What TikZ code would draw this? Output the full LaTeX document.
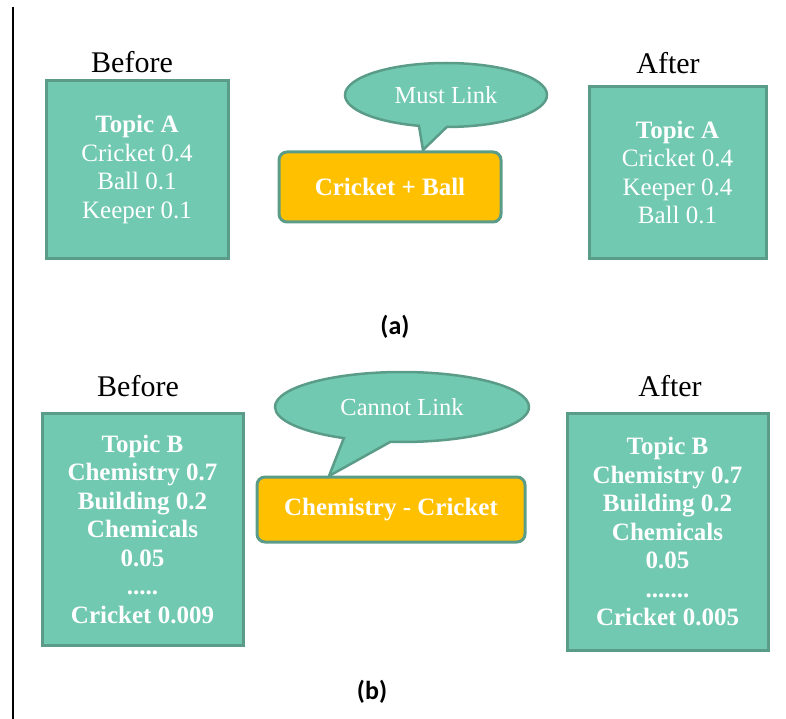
\documentclass[tikz,border=0pt]{standalone}
\usepackage{fontspec}
\setmainfont{Liberation Serif}
\newfontfamily\capfont{Carlito}
\usepackage{tikz}
\usetikzlibrary{shapes.callouts}

\definecolor{topicfill}{HTML}{70C9B0}
\definecolor{topicline}{HTML}{5B9C88}
\definecolor{linkfill}{HTML}{FFC000}

\tikzset{
  topicbox/.style={draw=topicline,line width=3pt,fill=topicfill,text=white,
    align=center,inner sep=0pt,font=\fontsize{25}{28.5}\selectfont},
  linkbox/.style={draw=topicline,line width=3pt,fill=linkfill,text=white,
    rounded corners=8pt,inner sep=0pt,font=\bfseries\fontsize{25}{28}\selectfont},
  bubble/.style={ellipse callout,draw=topicline,line width=2.5pt,fill=topicfill,
    text=white,inner sep=0pt,font=\fontsize{24.5}{28}\selectfont},
  heading/.style={font=\fontsize{30}{33}\selectfont},
  caption/.style={font=\capfont\bfseries\fontsize{26}{30}\selectfont}
}

\begin{document}
\begin{tikzpicture}[x=1pt,y=-1pt]
\useasboundingbox (0,0) rectangle (786,719);
\draw[line width=1.5pt] (13,7) -- (13,719);

% (a) must link
\node[heading] (beforeA) at (132,62) {Before};
\node[heading] (afterA) at (668,63) {After};
\node[topicbox,minimum width=182pt,minimum height=177pt] (topicA) at (137,169.5)
  {\textbf{Topic A}\\Cricket 0.4\\Ball 0.1\\Keeper 0.1};
\node[topicbox,minimum width=177pt,minimum height=171pt] (topicAnew) at (677.5,172.5)
  {\textbf{Topic A}\\Cricket 0.4\\Keeper 0.4\\Ball 0.1};
\node[linkbox,minimum width=222pt,minimum height=70pt] (pairA) at (390,187) {Cricket + Ball};
\coordinate (tipA) at (423,150);
\node[bubble,minimum width=202pt,minimum height=64pt,callout pointer arc=16,
  callout absolute pointer={(tipA)}] (mustlink) at (446,95) {Must Link};
\node[caption] (capA) at (395,327) {(a)};

% (b) cannot link
\node[heading] (beforeB) at (138,386) {Before};
\node[heading] (afterB) at (670,386) {After};
\node[topicbox,minimum width=201pt,minimum height=232pt,font=\bfseries\fontsize{25}{28.5}\selectfont]
  (topicB) at (142.5,529)
  {Topic B\\Chemistry 0.7\\Building 0.2\\Chemicals\\0.05\\.....\\Cricket 0.009};
\node[topicbox,minimum width=201pt,minimum height=237pt,font=\bfseries\fontsize{25}{28.5}\selectfont]
  (topicBnew) at (667.5,531.5)
  {Topic B\\Chemistry 0.7\\Building 0.2\\Chemicals\\0.05\\.......\\Cricket 0.005};
\node[linkbox,minimum width=268pt,minimum height=65pt] (pairB) at (391,509.5) {Chemistry - Cricket};
\coordinate (tipB) at (329,476);
\node[bubble,minimum width=254pt,minimum height=70pt,callout pointer arc=22,
  callout absolute pointer={(tipB)}] (cannotlink) at (402,407) {Cannot Link};
\node[caption] (capB) at (372,692) {(b)};
\end{tikzpicture}
\end{document}
